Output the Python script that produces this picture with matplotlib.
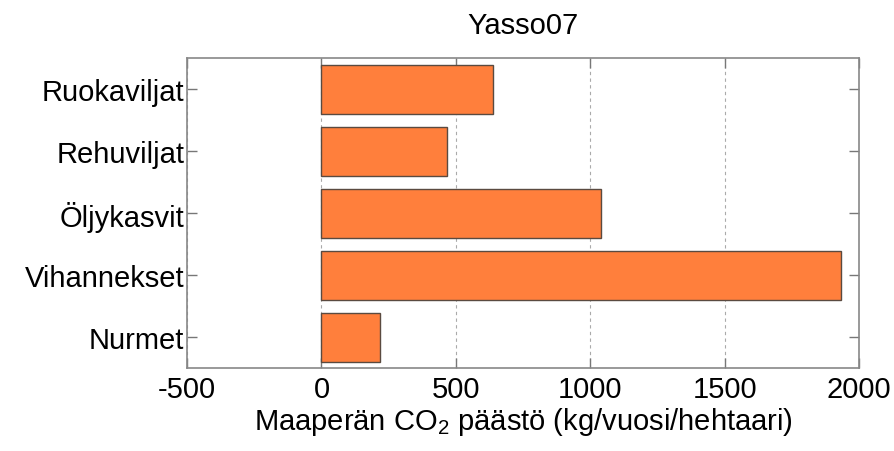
import matplotlib
matplotlib.use("Agg")
import matplotlib.pyplot as plt

categories = ["Ruokaviljat", "Rehuviljat", "Öljykasvit", "Vihannekset", "Nurmet"]
values = [638, 465, 1041, 1931, 217]
xticks = [-500, 0, 500, 1000, 1500, 2000]

plt.rcParams['font.family'] = ['Liberation Sans', 'DejaVu Sans']
plt.rcParams['mathtext.fontset'] = 'custom'
plt.rcParams['mathtext.rm'] = 'Liberation Sans'
plt.rcParams['mathtext.it'] = 'Liberation Sans:italic'

fig = plt.figure(figsize=(8.95, 4.52), dpi=100)
ax = fig.add_axes([187/895, 1-369.3/452, (859.3-187)/895, (369.3-59.3)/452])

ypos = list(range(len(categories), 0, -1))
ax.barh(ypos, values, height=0.8, color='#FF7F3C', edgecolor='#5a4a40', linewidth=1.0, zorder=3)

ax.set_xlim(-500, 2000)
ax.set_ylim(0.5, 5.5)
ax.set_xticks(xticks)
ax.set_xticklabels([str(v) for v in xticks])
ax.set_yticks(ypos)
ax.set_yticklabels(categories)
ax.tick_params(direction='in', top=True, right=True, length=7, width=1, color='#777777',
               labelsize=21)
ax.tick_params(axis='y', pad=2)
ax.tick_params(axis='x', pad=5)
ax.xaxis.grid(True, linestyle=(0, (3, 3)), color='#aaaaaa', linewidth=0.8, zorder=0)
for s in ax.spines.values():
    s.set_color('#888888')
    s.set_linewidth(1.2)

ax.set_title("Yasso07", fontsize=21, pad=18)
ax.set_xlabel(r"Maaperän CO$_\mathrm{2}$ päästö (kg/vuosi/hehtaari)", fontsize=21, labelpad=1)

fig.savefig("out.png", dpi=100)
